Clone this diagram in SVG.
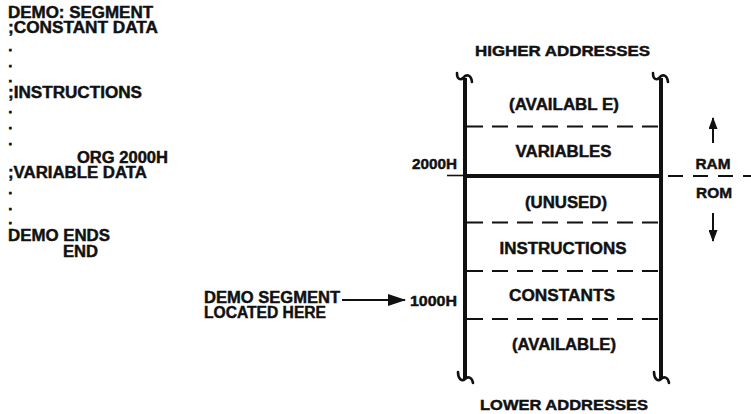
<svg xmlns="http://www.w3.org/2000/svg" width="751" height="414" viewBox="0 0 751 414">
<style>
text{font-family:"Liberation Sans",Arial,sans-serif;font-weight:bold;fill:#111;stroke:#111;stroke-width:0.45;}
.s16{font-size:16px;}
.s15{font-size:15px;}
.dot{font-size:13px;stroke-width:0.8;}
.c{text-anchor:middle;}
.wall{stroke:#111;stroke-width:4;fill:none;}
.hook{stroke:#111;stroke-width:2.6;fill:none;stroke-linecap:round;}
.dash{stroke:#111;stroke-width:2;stroke-dasharray:16 9;fill:none;}
.thin{stroke:#111;stroke-width:1.6;fill:none;}
</style>
<defs>
<marker id="ah" markerWidth="12" markerHeight="9" refX="11" refY="4.5" orient="auto" markerUnits="userSpaceOnUse" viewBox="0 0 12 9">
<path d="M0,0 L12,4.5 L0,9 Z" fill="#111"/>
</marker>
<marker id="ah2" markerWidth="18" markerHeight="12" refX="17" refY="6" orient="auto" markerUnits="userSpaceOnUse" viewBox="0 0 18 12">
<path d="M0,0 L18,6 L0,12 Z" fill="#111"/>
</marker>
</defs>
<rect width="751" height="414" fill="#fff"/>

<g id="source-listing">
<text class="s16" x="8" y="18" textLength="145" lengthAdjust="spacingAndGlyphs">DEMO: SEGMENT</text>
<text class="s16" x="8" y="32.5" textLength="150" lengthAdjust="spacingAndGlyphs">;CONSTANT DATA</text>
<text class="dot" x="8.5" y="51">.</text>
<text class="dot" x="8.5" y="66.5">.</text>
<text class="dot" x="8.5" y="81.5">.</text>
<text class="s16" x="8" y="98" textLength="134" lengthAdjust="spacingAndGlyphs">;INSTRUCTIONS</text>
<text class="dot" x="8.5" y="113">.</text>
<text class="dot" x="8.5" y="129">.</text>
<text class="dot" x="8.5" y="145">.</text>
<text class="s16" x="77" y="163" textLength="91" lengthAdjust="spacingAndGlyphs">ORG 2000H</text>
<text class="s16" x="8" y="178" textLength="139" lengthAdjust="spacingAndGlyphs">;VARIABLE DATA</text>
<text class="dot" x="8.5" y="194">.</text>
<text class="dot" x="8.5" y="210">.</text>
<text class="dot" x="8.5" y="224">.</text>
<text class="s16" x="8" y="240.5" textLength="102" lengthAdjust="spacingAndGlyphs">DEMO ENDS</text>
<text class="s16" x="63" y="257" textLength="35" lengthAdjust="spacingAndGlyphs">END</text>
</g>

<g id="memory-map">
<line class="wall" x1="465" y1="78" x2="465" y2="379"/>
<line class="wall" x1="661" y1="78" x2="661" y2="379"/>
<path class="hook" d="M457,73 C457,80 461,80 463,78 C466,74 471,74 472,82"/>
<path class="hook" d="M653,73 C653,80 657,80 659,78 C662,74 667,74 668,82"/>
<path class="hook" d="M458,372 C458,379 462,382 465,379 C468,376 472,377 473,383"/>
<path class="hook" d="M654,372 C654,379 658,382 661,379 C664,376 668,377 669,383"/>
<line class="dash" x1="467" y1="126.5" x2="660" y2="126.5"/>
<line class="wall" x1="465" y1="176" x2="661" y2="176"/>
<line class="dash" x1="467" y1="222.5" x2="660" y2="222.5"/>
<line class="dash" x1="467" y1="271" x2="660" y2="271"/>
<line class="dash" x1="467" y1="319" x2="660" y2="319"/>
</g>

<g id="label-higher"><text class="s15 c" x="562.5" y="56" textLength="175" lengthAdjust="spacingAndGlyphs">HIGHER ADDRESSES</text></g>
<g id="seg-available-top"><text class="s16 c" x="564" y="110" textLength="110" lengthAdjust="spacingAndGlyphs">(AVAILABL E)</text></g>
<g id="seg-variables"><text class="s16 c" x="563.5" y="156.5" textLength="96" lengthAdjust="spacingAndGlyphs">VARIABLES</text></g>
<g id="seg-unused"><text class="s16 c" x="566" y="208" textLength="82" lengthAdjust="spacingAndGlyphs">(UNUSED)</text></g>
<g id="seg-instructions"><text class="s16 c" x="563" y="254" textLength="127" lengthAdjust="spacingAndGlyphs">INSTRUCTIONS</text></g>
<g id="seg-constants"><text class="s16 c" x="562" y="301" textLength="106" lengthAdjust="spacingAndGlyphs">CONSTANTS</text></g>
<g id="seg-available-bottom"><text class="s16 c" x="564" y="350" textLength="104" lengthAdjust="spacingAndGlyphs">(AVAILABLE)</text></g>
<g id="label-lower"><text class="s15 c" x="564" y="410" textLength="168" lengthAdjust="spacingAndGlyphs">LOWER ADDRESSES</text></g>

<g id="addr-2000h">
<text class="s15" x="412" y="169" textLength="45" lengthAdjust="spacingAndGlyphs">2000H</text>
<line class="thin" x1="447" y1="175.5" x2="465" y2="175.5"/>
</g>
<g id="addr-1000h"><text class="s15" x="410" y="306" textLength="47" lengthAdjust="spacingAndGlyphs">1000H</text></g>

<g id="demo-segment-label">
<text class="s16" x="204" y="303" textLength="136" lengthAdjust="spacingAndGlyphs">DEMO SEGMENT</text>
<text class="s16" x="204" y="318" textLength="122" lengthAdjust="spacingAndGlyphs">LOCATED HERE</text>
</g>

<g id="ram-rom">
<text class="s15 c" x="713" y="169" textLength="35" lengthAdjust="spacingAndGlyphs">RAM</text>
<text class="s15 c" x="714" y="198" textLength="36" lengthAdjust="spacingAndGlyphs">ROM</text>
<line class="dash" x1="668" y1="176" x2="751" y2="176" style="stroke-dasharray:15 10"/>
</g>

<g id="connectors">
<line x1="342" y1="300" x2="405" y2="300" stroke="#111" stroke-width="2" marker-end="url(#ah2)"/>
<line x1="713" y1="143" x2="713" y2="118" stroke="#111" stroke-width="2" marker-end="url(#ah)"/>
<line x1="713" y1="213" x2="713" y2="241" stroke="#111" stroke-width="2" marker-end="url(#ah)"/>
</g>
</svg>
